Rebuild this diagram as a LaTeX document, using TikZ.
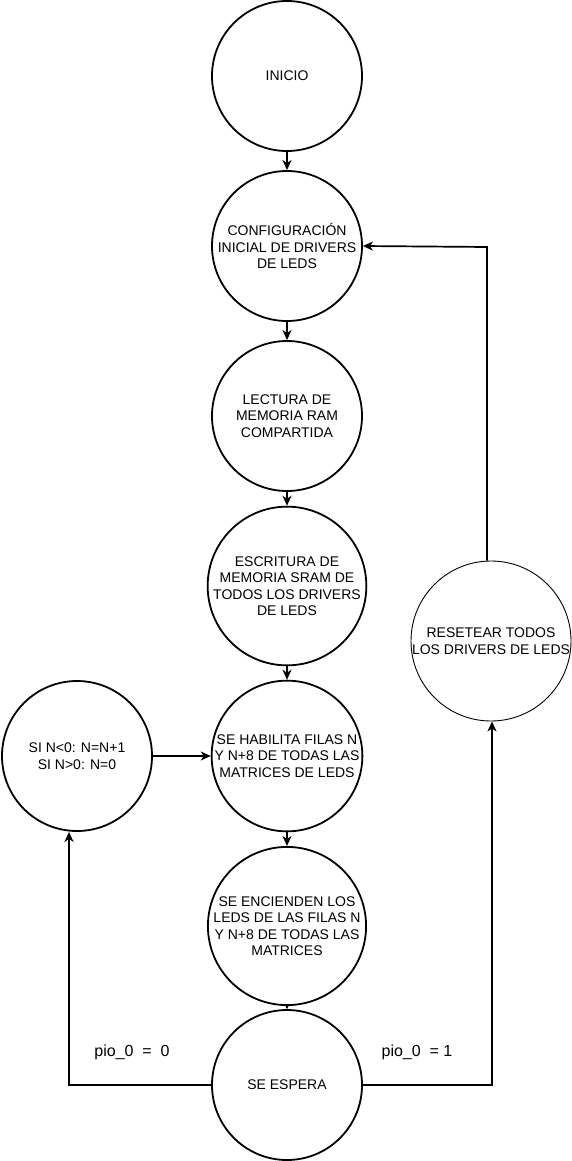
\documentclass[tikz,border=0pt]{standalone}
\usepackage{fontspec}
\setmainfont{Liberation Sans}
\usetikzlibrary{arrows.meta}
\begin{document}
\begin{tikzpicture}[x=1pt,y=1pt,
  state/.style={circle,draw=black,line width=1.8pt,minimum size=150pt,inner sep=0pt,align=center,font=\fontsize{14}{16.5}\selectfont},
  thinstate/.style={state,line width=0.9pt,minimum size=160pt},
  arr/.style={line width=1.7pt,-{Stealth[length=10pt,width=9pt,inset=3pt]}},
  lbl/.style={font=\fontsize{16}{18}\selectfont,inner sep=0pt}]
\useasboundingbox[fill=white] (0,0) rectangle (572,-1161);
\node[state] (ini) at (287,-76) {INICIO};
\node[state] (conf) at (287,-246) {CONFIGURACIÓN\\INICIAL DE DRIVERS\\DE LEDS};
\node[state] (lec) at (287,-416) {LECTURA DE\\MEMORIA RAM\\COMPARTIDA};
\node[state] (esc) at (287,-586) {ESCRITURA DE\\MEMORIA SRAM DE\\TODOS LOS DRIVERS\\DE LEDS};
\node[state] (hab) at (287,-756) {SE HABILITA FILAS N\\Y N+8 DE TODAS LAS\\MATRICES DE LEDS};
\node[state] (enc) at (287,-926) {SE ENCIENDEN LOS\\LEDS DE LAS FILAS N\\Y N+8 DE TODAS LAS\\MATRICES};
\node[state] (esp) at (287,-1085) {SE ESPERA};
\node[state] (si) at (77,-756) {SI N<0: N=N+1\\SI N>0: N=0};
\node[thinstate] (res) at (491,-641) {RESETEAR TODOS\\LOS DRIVERS DE LEDS};
\coordinate (lc) at (69,-1085);
\coordinate (rc) at (492,-1085);
\coordinate (rt) at (487,-247);
\draw[arr] (ini) -- (conf);
\draw[arr] (conf) -- (lec);
\draw[arr] (lec) -- (esc);
\draw[arr] (esc) -- (hab);
\draw[arr] (hab) -- (enc);
\draw[line width=1.7pt,-{Stealth[length=5pt,width=5pt,inset=1.5pt]}] (enc) -- (esp);
\draw[arr] (si) -- (hab);
\draw[arr] (esp.west) -- (lc) -- (lc |- si.south);
\draw[arr] (esp.east) -- (rc) -- (rc |- res.south);
\draw[arr] (res.north -| rt) -- (rt) -- (conf.east);
\node[lbl] (l0) at (132,-1052) {pio\_0\ \ =\ \ 0};
\node[lbl] (l1) at (417,-1052) {pio\_0\ \ = 1};
\end{tikzpicture}
\end{document}
